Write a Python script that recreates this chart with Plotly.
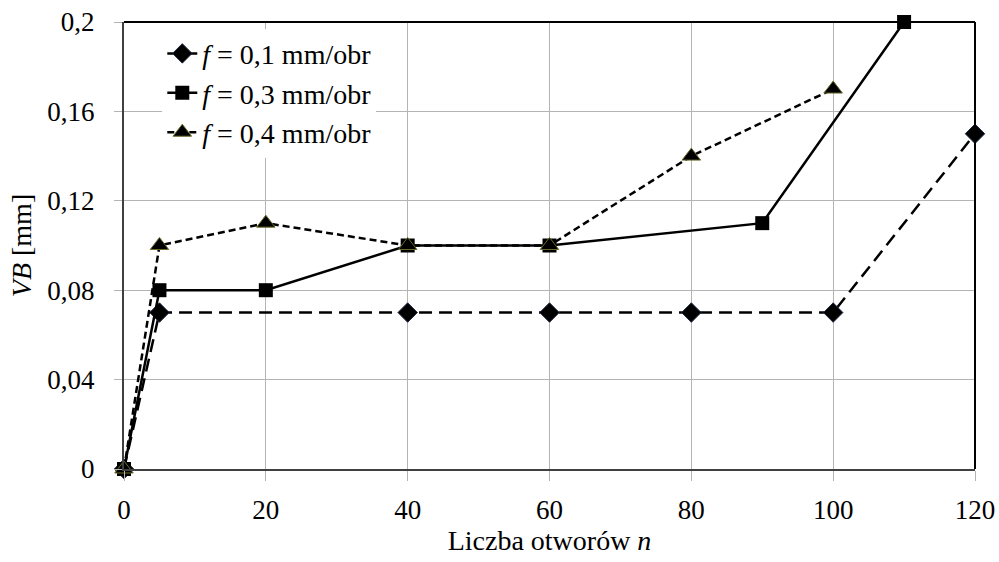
import plotly.graph_objects as go

# Tool wear VB versus number of drilled holes for three feed rates
n_f01 = [0, 5, 40, 60, 80, 100, 120]
vb_f01 = [0, 0.07, 0.07, 0.07, 0.07, 0.07, 0.15]

n_f03 = [0, 5, 20, 40, 60, 90, 110]
vb_f03 = [0, 0.08, 0.08, 0.10, 0.10, 0.11, 0.20]

n_f04 = [0, 5, 20, 40, 60, 80, 100]
vb_f04 = [0, 0.10, 0.11, 0.10, 0.10, 0.14, 0.17]

x_ticks = [0, 20, 40, 60, 80, 100, 120]
y_ticks = [0, 0.04, 0.08, 0.12, 0.16, 0.2]

FONT = "Liberation Serif, Times New Roman, serif"

fig = go.Figure()
fig.add_trace(go.Scatter(
    x=n_f01, y=vb_f01, mode="lines+markers",
    name="<i>f</i> = 0,1 mm/obr",
    line=dict(color="black", width=2.5, dash="13px,7px"),
    marker=dict(symbol="diamond", size=15, color="black",
                line=dict(color="#1f2a44", width=1)),
    cliponaxis=False,
))
fig.add_trace(go.Scatter(
    x=n_f03, y=vb_f03, mode="lines+markers",
    name="<i>f</i> = 0,3 mm/obr",
    line=dict(color="black", width=2.5),
    marker=dict(symbol="square", size=14, color="black"),
    cliponaxis=False,
))
fig.add_trace(go.Scatter(
    x=n_f04, y=vb_f04, mode="lines+markers",
    name="<i>f</i> = 0,4 mm/obr",
    line=dict(color="black", width=2.5, dash="7px,4px"),
    marker=dict(symbol="triangle-up", size=16, color="black",
                line=dict(color="#6b6b2a", width=1)),
    cliponaxis=False,
))

fig.update_layout(
    width=999, height=562,
    margin=dict(l=124, r=24, t=22, b=93, autoexpand=False),
    paper_bgcolor="white", plot_bgcolor="white",
    separators=",.",
    font=dict(family=FONT, size=27, color="black"),
    showlegend=True,
    legend=dict(
        x=0.045, y=0.985, xanchor="left", yanchor="top",
        bgcolor="white", borderwidth=0,
        font=dict(family=FONT, size=28, color="black"),
        itemwidth=30, tracegroupgap=0,
    ),
    xaxis=dict(
        range=[0, 120], tickvals=x_ticks, automargin=False,
        showgrid=True, gridcolor="#b4b4b4", gridwidth=1,
        showline=True, linecolor="#404040", linewidth=2,
        ticks="outside", ticklen=10, tickcolor="#b4b4b4", tickwidth=1,
        ticklabelstandoff=6,
        zeroline=False,
        title=dict(text="Liczba otworów <i>n</i>", standoff=4,
                   font=dict(family=FONT, size=28)),
    ),
    yaxis=dict(
        range=[0, 0.2], tickvals=y_ticks, automargin=False,
        showgrid=True, gridcolor="#b4b4b4", gridwidth=1,
        showline=True, linecolor="#404040", linewidth=2,
        ticks="outside", ticklen=8, tickcolor="#b4b4b4", tickwidth=1,
        ticklabelstandoff=14,
        zeroline=False,
        title=dict(text="<i>VB</i> [mm]", standoff=8,
                   font=dict(family=FONT, size=28)),
    ),
    shapes=[
        dict(type="line", xref="paper", yref="paper", x0=0, x1=1, y0=1, y1=1,
             line=dict(color="black", width=2), layer="above"),
        dict(type="line", xref="paper", yref="paper", x0=1, x1=1, y0=0, y1=1,
             line=dict(color="black", width=2), layer="above"),
    ],
)

fig.write_html("out.html")
